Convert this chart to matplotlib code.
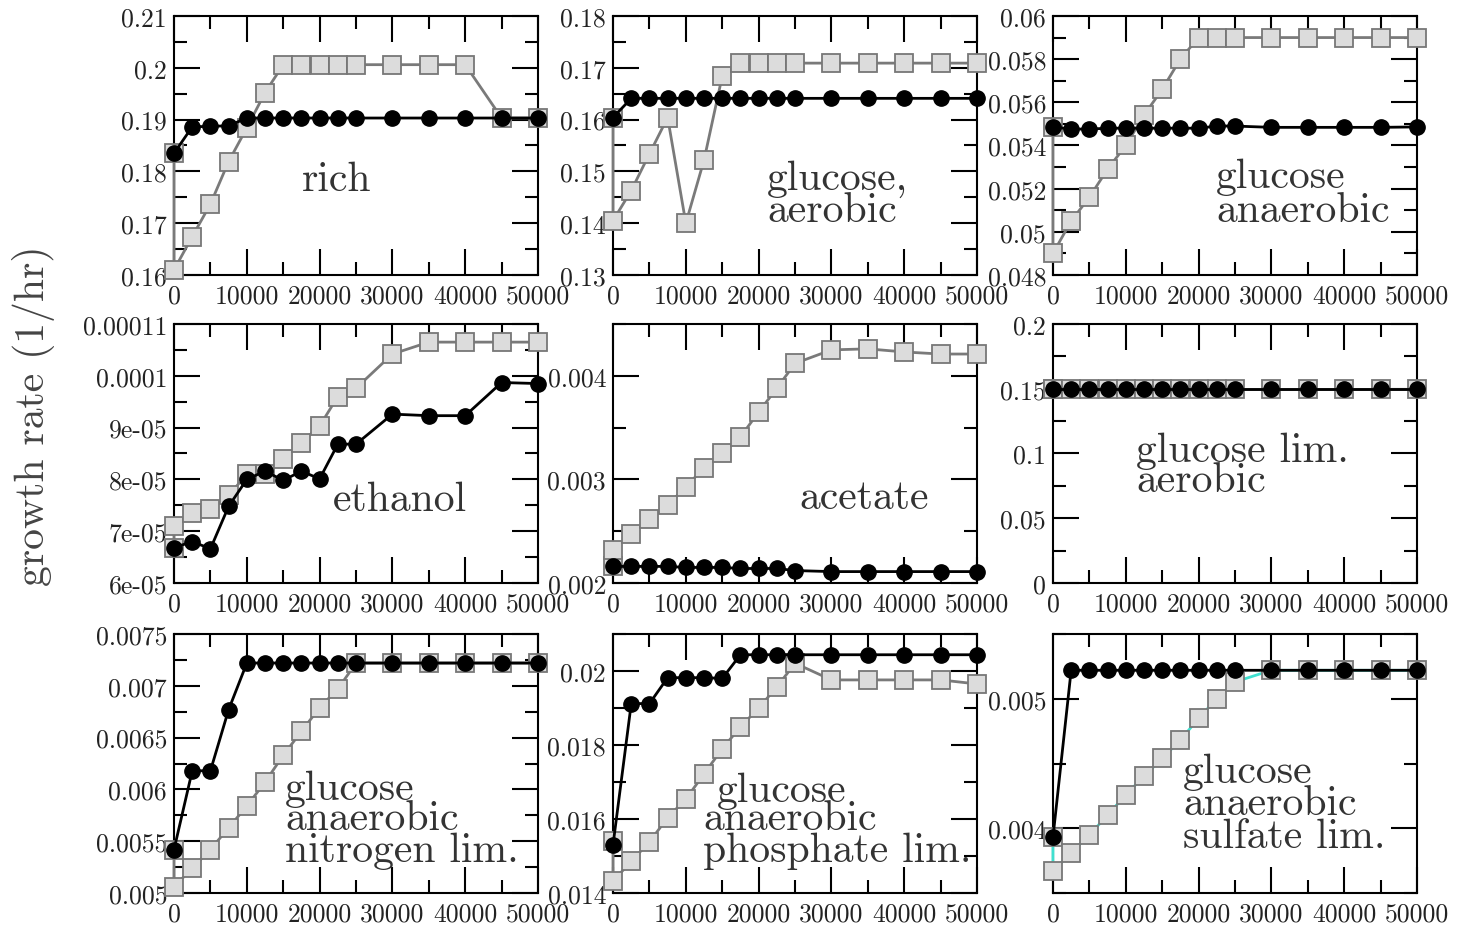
import matplotlib
matplotlib.use("Agg")
import matplotlib.pyplot as plt
from matplotlib.ticker import MultipleLocator, FuncFormatter

plt.rcParams['font.family'] = 'cmr10'
plt.rcParams['mathtext.fontset'] = 'cm'
plt.rcParams['axes.formatter.use_mathtext'] = True

# generations (black series); gray series has an extra starting point at 0
t = [0, 2500, 5000, 7500, 10000, 12500, 15000, 17500, 20000, 22500, 25000,
     30000, 35000, 40000, 45000, 50000]
t_gray = [0] + t

rich_gray = [0.1835, 0.161, 0.1674, 0.1737, 0.1819, 0.1884, 0.1952, 0.2006, 0.2006,
             0.2006, 0.2006, 0.2006, 0.2006, 0.2006, 0.2006, 0.1903, 0.1903]
rich_black = [0.1835, 0.1886, 0.1887, 0.1888] + [0.1903] * 12

aer_gray = [0.1604, 0.1405, 0.1463, 0.1534, 0.1604, 0.1400, 0.1522, 0.1684] + [0.1709] * 9
aer_black = [0.1604] + [0.1641] * 15

anaer_gray = [0.05486, 0.0490, 0.0505, 0.0516, 0.0529, 0.0540, 0.0554, 0.0566, 0.0580] + [0.0590] * 8
anaer_black = [0.05486, 0.05476, 0.05476, 0.0548, 0.0548, 0.0548, 0.0548, 0.0548, 0.0548,
               0.0549, 0.0549, 0.05484, 0.05484, 0.05484, 0.05484, 0.05486]

eth_gray = [6.68e-5, 7.1e-5, 7.35e-5, 7.43e-5, 7.69e-5, 8.1e-5, 8.1e-5, 8.39e-5, 8.71e-5,
            9.03e-5, 9.6e-5, 9.76e-5, 1.042e-4, 1.065e-4, 1.065e-4, 1.065e-4, 1.065e-4]
eth_black = [6.68e-5, 6.8e-5, 6.66e-5, 7.48e-5, 8.0e-5, 8.16e-5, 7.98e-5, 8.16e-5, 8.01e-5,
             8.68e-5, 8.68e-5, 9.26e-5, 9.23e-5, 9.23e-5, 9.87e-5, 9.85e-5]

ace_gray = [0.00216, 0.00232, 0.00247, 0.00262, 0.00275, 0.00293, 0.00311, 0.00325, 0.00341,
            0.00365, 0.00388, 0.00412, 0.00425, 0.00426, 0.00423, 0.00421, 0.00421]
ace_black = [0.00216, 0.00216, 0.00216, 0.00216, 0.00215, 0.00215, 0.00215, 0.00214, 0.00214,
             0.00214, 0.00212, 0.00211, 0.00211, 0.00211, 0.00211, 0.00211]

glim_gray = [0.15] * 17
glim_black = [0.15] * 16

nit_gray = [0.00542, 0.00506, 0.00524, 0.00542, 0.00563, 0.00584, 0.00607, 0.00633, 0.00656,
            0.00679, 0.00697] + [0.00722] * 6
nit_black = [0.00542, 0.00618, 0.00618, 0.00677] + [0.00722] * 12

pho_gray = [0.0154, 0.01432, 0.01486, 0.01538, 0.01604, 0.01654, 0.01722, 0.0179, 0.01849,
            0.019, 0.01957, 0.02021, 0.01976, 0.01976, 0.01976, 0.01976, 0.01965]
pho_black = [0.01531, 0.01912, 0.01912, 0.01982, 0.01982, 0.01982, 0.0198] + [0.02044] * 9

sul_gray = [0.00393, 0.00367, 0.00381, 0.00395, 0.0041, 0.00426, 0.0044, 0.00454, 0.00468,
            0.00485, 0.005, 0.00513] + [0.00522] * 5
sul_black = [0.00393] + [0.00522] * 15

labels = [["rich"], ["glucose,", "aerobic"], ["glucose", "anaerobic"],
          ["ethanol"], ["acetate"], ["glucose lim.", "aerobic"],
          ["glucose", "anaerobic", "nitrogen lim."],
          ["glucose", "anaerobic", "phosphate lim."],
          ["glucose", "anaerobic", "sulfate lim."]]

panels = [
    (rich_gray, rich_black, (0.16, 0.21), 0.01, 0.005),
    (aer_gray, aer_black, (0.13, 0.18), 0.01, 0.005),
    (anaer_gray, anaer_black, (0.048, 0.06), 0.002, 0.001),
    (eth_gray, eth_black, (6e-5, 1.1e-4), 1e-5, 5e-6),
    (ace_gray, ace_black, (0.002, 0.0045), 0.001, 0.0005),
    (glim_gray, glim_black, (0, 0.2), 0.05, 0.025),
    (nit_gray, nit_black, (0.005, 0.0075), 0.0005, 0.00025),
    (pho_gray, pho_black, (0.014, 0.021), 0.002, 0.001),
    (sul_gray, sul_black, (0.0035, 0.0055), 0.001, 0.0005),
]

# label placement in axes fraction: x of each line, baseline y of each line
label_pos = [
    ([0.352], [0.328]),
    ([0.423, 0.423], [0.332, 0.208]),
    ([0.448, 0.448], [0.340, 0.208]),
    ([0.437], [0.280]),
    ([0.511], [0.288]),
    ([0.228, 0.228], [0.471, 0.354]),
    ([0.305, 0.305, 0.305], [0.363, 0.247, 0.124]),
    ([0.286, 0.247, 0.247], [0.355, 0.247, 0.124]),
    ([0.357, 0.357, 0.357], [0.429, 0.305, 0.178]),
]

fig = plt.figure(figsize=(14.6, 9.28), dpi=100)
lefts = [0.1192, 0.4199, 0.7212]
bottoms = [0.7026, 0.3707, 0.0366]
w, h = 0.2493, 0.2791

fmt = FuncFormatter(lambda v, p: "%g" % v)

for i, (gray, black, ylim, major, minor) in enumerate(panels):
    ax = fig.add_axes([lefts[i % 3], bottoms[i // 3], w, h])
    gcol = '#40e0d0' if i == 8 else '#7a7a7a'
    ax.plot(t_gray, gray, '-', color=gcol, lw=2, marker='s', ms=13.5,
            mfc='#dcdcdc', mec='#777777', mew=1.3, clip_on=False, zorder=3)
    ax.plot(t, black, '-', color='black', lw=2, marker='o', ms=11,
            mfc='black', mec='black', clip_on=False, zorder=4)
    ax.set_xlim(0, 50000)
    ax.set_ylim(*ylim)
    ax.xaxis.set_major_locator(MultipleLocator(10000))
    ax.xaxis.set_minor_locator(MultipleLocator(5000))
    ax.yaxis.set_major_locator(MultipleLocator(major))
    ax.yaxis.set_minor_locator(MultipleLocator(minor))
    ax.xaxis.set_major_formatter(fmt)
    ax.yaxis.set_major_formatter(fmt)
    ax.tick_params(which='both', direction='in', top=True, right=True, width=1.5,
                   labelsize=18.5, labelcolor='#222222')
    ax.tick_params(which='major', length=19)
    ax.tick_params(which='minor', length=9.5)
    ax.tick_params(axis='y', pad=5)
    ax.tick_params(axis='x', pad=6)
    for s in ax.spines.values():
        s.set_linewidth(1.5)
    xs, ys = label_pos[i]
    for line, lx, ly in zip(labels[i], xs, ys):
        ax.text(lx, ly, line, transform=ax.transAxes, fontsize=30, color='#333333',
                va='baseline', ha='left', zorder=5)

fig.text(0.023, 0.552, "growth rate (1/hr)", rotation=90, fontsize=30,
         color='#444444', ha='center', va='center')

fig.savefig("out.png", dpi=100)
